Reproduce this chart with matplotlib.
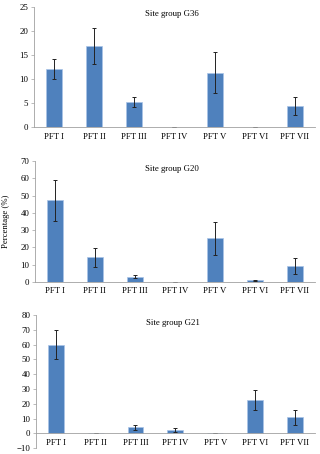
import matplotlib
matplotlib.use('Agg')
import matplotlib.pyplot as plt
import numpy as np

plt.rcParams['font.family'] = ['Liberation Serif', 'DejaVu Serif']

categories = ['PFT I', 'PFT II', 'PFT III', 'PFT IV', 'PFT V', 'PFT VI', 'PFT VII']

g36_mean = [12.0, 16.9, 5.2, 0.0, 11.3, 0.05, 4.4]
g36_err = [2.1, 3.8, 1.1, 0.0, 4.25, 0.0, 1.95]

g20_mean = [47.3, 14.2, 3.1, 0.0, 25.2, 1.0, 9.4]
g20_err = [11.9, 5.5, 0.9, 0.0, 9.7, 0.3, 4.7]

g21_mean = [59.9, 0.0, 4.1, 2.0, 0.2, 22.8, 10.8]
g21_err = [9.9, 0.0, 1.7, 1.4, 0.0, 6.8, 5.1]

panels = [
    ('Site group G36', g36_mean, g36_err, (0, 25), 5),
    ('Site group G20', g20_mean, g20_err, (0, 70), 10),
    ('Site group G21', g21_mean, g21_err, (-10, 80), 10),
]

# axes rectangles in figure fractions (left, bottom, width, height)
rects = [
    (0.106, 0.720, 0.878, 0.265),
    (0.109, 0.379, 0.875, 0.266),
    (0.112, 0.013, 0.872, 0.293),
]

fig = plt.figure(figsize=(3.2, 4.54), dpi=100)
x = np.arange(len(categories))
fs = 6.3

for (title, mean, err, ylim, step), rect in zip(panels, rects):
    ax = fig.add_axes(rect)
    # spine position first, it resets the ticks
    for s in ['top', 'right']:
        ax.spines[s].set_visible(False)
    for s in ['left', 'bottom']:
        ax.spines[s].set_color('#a0a0a0')
        ax.spines[s].set_linewidth(0.6)
    ax.spines['bottom'].set_position(('data', 0))

    ax.bar(x, mean, width=0.4, color='#4F81BD', edgecolor='#A9C4E8', linewidth=0.5,
           yerr=err, error_kw=dict(ecolor='#222222', elinewidth=0.7, capsize=1.5, capthick=0.7))
    ax.set_xlim(-0.5, 6.5)
    ax.set_ylim(*ylim)
    ax.set_yticks(np.arange(ylim[0], ylim[1] + 0.1, step))
    ax.set_xticks(x)
    ax.set_xticklabels(categories, fontsize=fs)
    ax.tick_params(axis='y', labelsize=fs, length=2, width=0.5, color='#a0a0a0', pad=2)
    ax.tick_params(axis='x', length=0, pad=4)
    ax.text(0.49, 0.97, title, transform=ax.transAxes, ha='center', va='top', fontsize=fs)
    ax.set_facecolor('none')

fig.text(0.02, 0.513, 'Percentage (%)', rotation=90, ha='center', va='center', fontsize=fs)

fig.savefig('out.png', dpi=100)
